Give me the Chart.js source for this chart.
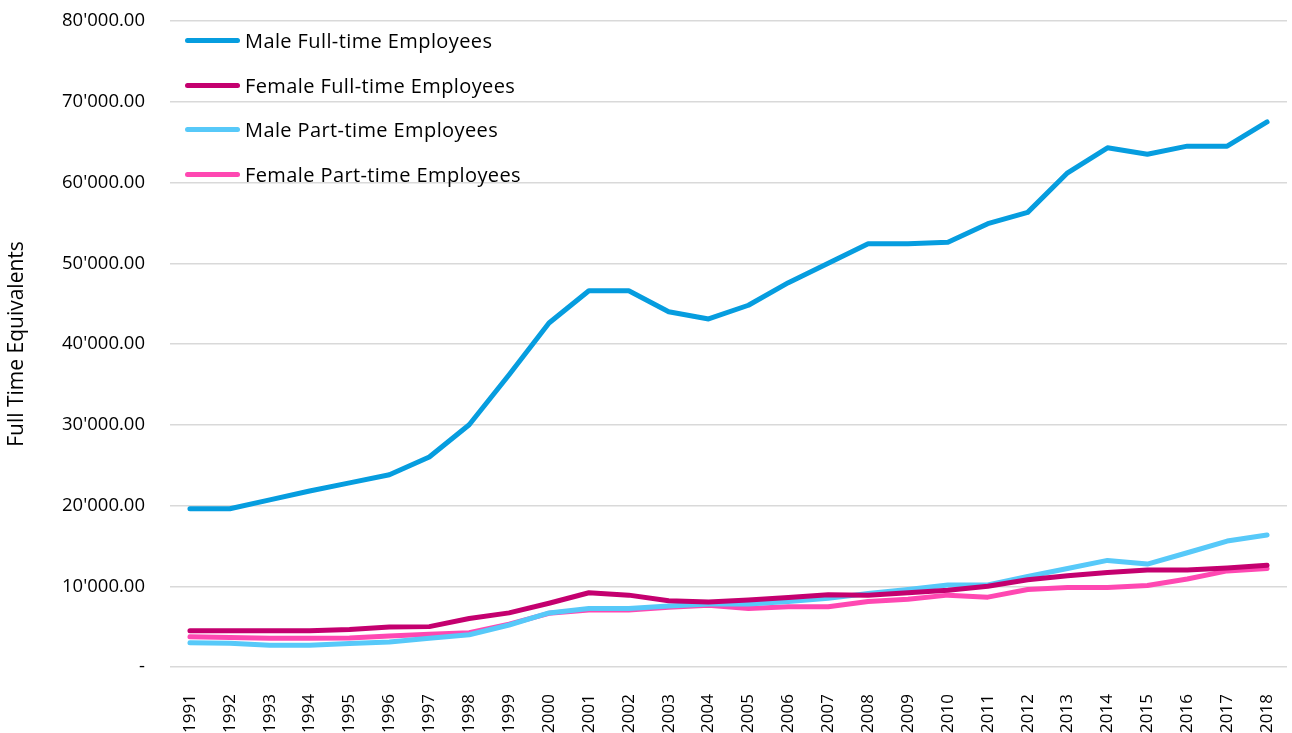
<!DOCTYPE html>
<html lang="en">
<head>
<meta charset="UTF-8">
<title>Full Time Equivalents by gender and employment type</title>
<script src="https://cdn.jsdelivr.net/npm/chart.js"></script>
<style>
    html, body { margin: 0; padding: 0; background: #fff; }
    #wrap { position: relative; width: 1292px; height: 733px; }
    #legend {
        position: absolute; left: 185px; top: 18px;
        font-family: "Open Sans", sans-serif; font-size: 20px; letter-spacing: 0.4px; color: #000;
    }
    #legend .row { display: flex; align-items: center; height: 44.7px; }
    #legend .swatch { width: 55px; height: 5px; border-radius: 3px; margin-right: 5px; }
</style>
</head>
<body>
<div id="wrap">
    <canvas id="chart" width="1292" height="733"></canvas>
    <div id="legend"></div>
</div>
<script>
// years on the x axis
const years = ['1991','1992','1993','1994','1995','1996','1997','1998','1999','2000',
    '2001','2002','2003','2004','2005','2006','2007','2008','2009','2010',
    '2011','2012','2013','2014','2015','2016','2017','2018'];

// series values (full time equivalents)
const maleFullTime = [19600, 19600, 20700, 21800, 22800, 23800, 26000, 30000, 36200, 42600,
    46600, 46600, 44000, 43100, 44800, 47600, 50000, 52400, 52400, 52600,
    54900, 56300, 61200, 64300, 63500, 64500, 64500, 67500];
const femaleFullTime = [4500, 4500, 4500, 4500, 4650, 4950, 5000, 6000, 6700, 7900,
    9200, 8900, 8200, 8050, 8300, 8600, 8950, 8900, 9200, 9500,
    10000, 10800, 11300, 11700, 12000, 12000, 12250, 12600];
const malePartTime = [3000, 2950, 2700, 2700, 2900, 3100, 3550, 4000, 5200, 6700,
    7250, 7250, 7550, 7800, 7800, 8100, 8500, 9100, 9600, 10150,
    10150, 11200, 12200, 13200, 12750, 14150, 15600, 16350];
const femalePartTime = [3750, 3650, 3550, 3550, 3600, 3850, 4050, 4250, 5300, 6650,
    7050, 7050, 7400, 7650, 7250, 7450, 7450, 8100, 8400, 8900,
    8650, 9600, 9850, 9850, 10100, 10900, 11900, 12200];

const seriesNames = ['Male Full-time Employees', 'Female Full-time Employees',
    'Male Part-time Employees', 'Female Part-time Employees'];
const seriesColors = ['#069ddf', '#c4006f', '#57c9f9', '#ff48b2'];
const seriesData = [maleFullTime, femaleFullTime, malePartTime, femalePartTime];

// y axis: 0 .. 80'000, every 10'000
const yMax = 80000;
const yStep = 10000;

const FONT = '"Open Sans", sans-serif';

function fmt(v) {
    if (v === 0) return '-';
    const s = Math.round(v).toString().replace(/\B(?=(\d{3})+(?!\d))/g, "'");
    return s + '.00';
}

const datasets = seriesNames.map((name, i) => ({
    label: name,
    data: seriesData[i],
    borderColor: seriesColors[i],
    backgroundColor: seriesColors[i],
    borderWidth: 5,
    pointRadius: 0,
    tension: 0,
    fill: false,
    borderCapStyle: 'round',
    borderJoinStyle: 'round',
    order: i
}));

const chart = new Chart(document.getElementById('chart'), {
    type: 'line',
    data: { labels: years, datasets: datasets },
    options: {
        responsive: false,
        animation: false,
        layout: { padding: { top: 21, right: 5, left: 0, bottom: 0 } },
        plugins: {
            legend: { display: false },
            tooltip: { enabled: false }
        },
        scales: {
            x: {
                offset: true,
                grid: { display: false },
                border: { display: false },
                ticks: {
                    color: '#000',
                    font: { family: FONT, size: 17 },
                    minRotation: 90,
                    maxRotation: 90,
                    autoSkip: false,
                    padding: 19
                },
                afterFit: (s) => {
                    s.height = 66;
                    s.paddingLeft = 0;
                    s.paddingRight = 0;
                }
            },
            y: {
                min: 0,
                max: yMax,
                grid: { color: '#d9d9d9', lineWidth: 1.5, drawTicks: false },
                border: { display: false },
                ticks: {
                    stepSize: yStep,
                    color: '#000',
                    font: { family: FONT, size: 18.5 },
                    padding: 25,
                    callback: (v) => fmt(v)
                },
                title: {
                    display: true,
                    text: 'Full Time Equivalents',
                    color: '#000',
                    font: { family: FONT, size: 21 },
                    padding: { top: 4, bottom: 0 }
                },
                afterFit: (s) => {
                    s.width = 170;
                    s.paddingTop = 0;
                    s.paddingBottom = 0;
                }
            }
        }
    }
});

// legend inside the plot area, top-left, in the same order as the series
const legend = document.getElementById('legend');
seriesNames.forEach((name, i) => {
    const row = document.createElement('div');
    row.className = 'row';
    const sw = document.createElement('span');
    sw.className = 'swatch';
    sw.style.background = seriesColors[i];
    const t = document.createElement('span');
    t.textContent = name;
    row.appendChild(sw);
    row.appendChild(t);
    legend.appendChild(row);
});
</script>
</body>
</html>
